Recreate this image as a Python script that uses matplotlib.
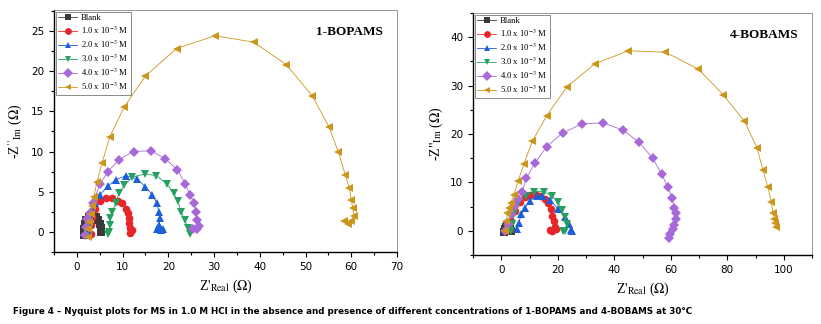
import numpy as np
import matplotlib
matplotlib.use("Agg")
import matplotlib.pyplot as plt
from matplotlib.ticker import MultipleLocator, AutoMinorLocator

plt.rcParams["mathtext.fontset"] = "stix"

labels = ["Blank", "1.0 x 10$^{-3}$ M", "2.0 x 10$^{-3}$ M", "3.0 x 10$^{-3}$ M",
          "4.0 x 10$^{-3}$ M", "5.0 x 10$^{-3}$ M"]
colors = ["#3a3a3a", "#e8262a", "#1c5fd6", "#25a060", "#a868d8", "#cc961c"]
markers = ["s", "o", "^", "v", "D", "<"]

# 1-BOPAMS  (Z'real, -Z''im)
b1_x = [[1.6, 1.5, 1.7, 2.1, 2.7, 3.4, 4.1, 4.7, 5.0, 5.2, 5.3],
        [3.0, 3.1, 3.4, 3.9, 5.1, 6.4, 7.7, 9.0, 9.9, 10.7, 11.2, 11.4, 11.5, 11.7, 11.6, 12.1],
        [2.6, 2.7, 2.9, 3.3, 3.9, 5.0, 6.8, 8.5, 10.8, 13.1, 15.0, 16.5, 17.5, 17.9, 18.1, 18.0, 17.6, 18.3, 18.8],
        [6.8, 7.0, 7.2, 7.3, 7.7, 8.5, 9.2, 10.4, 12.1, 14.8, 17.4, 19.6, 21.2, 22.1, 22.8, 23.6, 24.3, 24.7],
        [1.7, 1.9, 2.2, 2.8, 3.5, 5.0, 6.8, 9.2, 12.4, 16.2, 19.3, 22.0, 23.7, 24.7, 25.7, 26.1, 26.3, 26.6, 26.2, 25.3],
        [2.4, 2.5, 2.7, 3.0, 3.4, 3.7, 4.4, 5.5, 7.2, 10.3, 15.0, 21.8, 30.2, 38.7, 45.8, 51.5, 55.1, 57.2,
         58.7, 59.6, 60.0, 60.3, 60.6, 60.0, 59.3, 58.4]]
b1_y = [[-0.4, 0.3, 1.0, 1.5, 1.9, 2.0, 1.9, 1.5, 1.0, 0.5, 0.0],
        [-0.2, 0.8, 1.8, 2.9, 3.9, 4.2, 4.2, 3.9, 3.6, 2.9, 2.3, 1.7, 1.1, 0.5, -0.1, 0.2],
        [0.0, 1.0, 2.0, 2.9, 3.6, 4.6, 5.7, 6.5, 7.0, 6.6, 5.6, 4.6, 3.6, 2.5, 1.7, 0.9, 0.3, 0.2, 0.3],
        [-0.3, 0.0, 0.9, 1.7, 2.5, 3.6, 4.8, 5.8, 6.8, 7.2, 7.0, 6.0, 4.8, 3.8, 2.5, 1.5, 0.5, -0.2],
        [-0.4, 0.6, 1.6, 2.4, 3.6, 5.9, 7.5, 9.0, 10.0, 10.1, 9.1, 7.7, 6.0, 4.6, 3.6, 2.5, 1.5, 0.7, 0.4, 0.3],
        [-0.6, 0.3, 1.2, 2.2, 3.2, 4.4, 6.2, 8.6, 11.8, 15.5, 19.4, 22.8, 24.4, 23.6, 20.8, 16.9, 13.1, 9.9,
         7.1, 5.4, 4.0, 3.0, 2.0, 1.4, 1.0, 1.3]]

# 4-BOBAMS
b4_x = [[1.0, 1.2, 1.6, 2.2, 2.8, 3.2, 3.4],
        [3.0, 3.6, 4.8, 6.6, 8.4, 10.0, 11.9, 13.7, 15.5, 16.7, 17.6, 18.1, 18.7, 19.0, 19.3, 18.1, 17.3],
        [5.7, 6.2, 7.1, 8.4, 10.1, 12.5, 14.3, 17.3, 20.2, 22.6, 24.0, 24.8, 25.0],
        [3.5, 3.8, 4.5, 6.0, 8.6, 11.7, 15.0, 17.9, 20.1, 21.5, 22.6, 23.2, 22.6, 21.7],
        [1.5, 2.4, 3.6, 4.8, 6.0, 7.4, 8.9, 11.9, 16.1, 21.7, 28.6, 36.1, 43.1, 48.8, 53.6, 56.8, 58.9,
         60.5, 61.3, 61.9, 61.7, 61.3, 60.7, 59.8, 59.3],
        [1.2, 1.8, 2.2, 2.7, 3.3, 4.5, 6.0, 8.0, 11.0, 16.1, 23.2, 33.1, 45.0, 58.1, 69.8, 78.6, 86.1, 90.5,
         92.6, 94.4, 95.6, 96.2, 96.7, 97.0, 97.4]]
b4_y = [[-0.3, 0.3, 0.8, 1.0, 0.8, 0.4, 0.0],
        [0.3, 2.0, 4.1, 5.9, 6.9, 7.4, 7.6, 7.2, 6.6, 5.7, 4.5, 3.1, 2.1, 0.8, 0.3, 0.0, 0.1],
        [0.3, 1.7, 3.4, 4.8, 6.2, 7.2, 7.2, 6.3, 4.5, 2.8, 1.4, 0.1, 0.0],
        [0.0, 1.5, 3.5, 5.5, 7.2, 8.1, 8.1, 7.2, 6.0, 4.3, 2.8, 1.5, 0.0, -0.1],
        [0.0, 1.4, 3.4, 5.2, 6.6, 8.1, 10.9, 14.0, 17.4, 20.2, 22.1, 22.3, 20.8, 18.3, 15.0, 11.7, 9.1,
         6.8, 4.8, 3.6, 2.4, 1.2, 0.3, -0.7, -1.4],
        [0.0, 2.1, 3.6, 4.8, 5.7, 7.4, 10.3, 13.8, 18.5, 23.8, 29.7, 34.5, 37.2, 36.9, 33.4, 28.1, 22.6, 17.2,
         12.6, 9.0, 6.0, 3.6, 2.4, 1.7, 0.8]]

W, H = 821, 324
fig = plt.figure(figsize=(W / 100, H / 100), dpi=100)


def panel(rect, xs, ys, name, xlim, ylim, xstep, ystep, ylab):
    l, r, t, b = rect
    ax = fig.add_axes([l / W, 1 - b / H, (r - l) / W, (b - t) / H])
    for i in range(6):
        ax.plot(xs[i], ys[i], color=colors[i], marker=markers[i], ms=5.5, lw=0.6,
                mew=0, label=labels[i])
    ax.set_xlim(*xlim)
    ax.set_ylim(*ylim)
    ax.xaxis.set_major_locator(MultipleLocator(xstep))
    ax.yaxis.set_major_locator(MultipleLocator(ystep))
    ax.xaxis.set_minor_locator(AutoMinorLocator(2))
    ax.yaxis.set_minor_locator(AutoMinorLocator(2))
    ax.tick_params(which="both", direction="out", labelsize=7.5, width=0.8)
    ax.tick_params(which="major", length=3.5)
    ax.tick_params(which="minor", length=2)
    for s in ["top", "right"]:
        ax.spines[s].set_color("#888888")
        ax.spines[s].set_linewidth(0.6)
    for s in ["left", "bottom"]:
        ax.spines[s].set_linewidth(1.0)
    ax.set_xlabel("Z$'_{\\mathrm{Real}}$ ($\\Omega$)", family="Liberation Serif", fontsize=10)
    ax.set_ylabel(ylab, family="Liberation Serif", fontsize=10, labelpad=4)
    ax.text(0.96, 0.91, name, transform=ax.transAxes, ha="right", va="center",
            family="Liberation Serif", fontweight="bold", fontsize=9.5)
    leg = ax.legend(loc="upper left", prop={"family": "Liberation Serif", "size": 6.2},
                    frameon=True, fancybox=False, edgecolor="#555555", borderpad=0.3,
                    labelspacing=0.3, handlelength=2.2, handletextpad=0.4,
                    borderaxespad=0.2, markerscale=0.9)
    leg.get_frame().set_linewidth(0.6)
    return ax


panel((54, 397, 10, 252), b1_x, b1_y, "1-BOPAMS", (-5, 70), (-2.5, 27.6), 10, 5,
      "-Z$''_{\\mathrm{Im}}$ ($\\Omega$)")
panel((473, 812, 13, 255), b4_x, b4_y, "4-BOBAMS", (-10, 110), (-5, 45), 20, 10,
      "-Z\"$_{\\mathrm{Im}}$ ($\\Omega$)")

fig.text(13 / W, 1 - 312 / H,
         "Figure 4 \u2013 Nyquist plots for MS in 1.0 M HCl in the absence and presence of "
         "different concentrations of 1-BOPAMS and 4-BOBAMS at 30\u00b0C",
         family="Liberation Sans Narrow", fontweight="bold", fontsize=6.3, va="center")

fig.savefig("out.png", dpi=100)
